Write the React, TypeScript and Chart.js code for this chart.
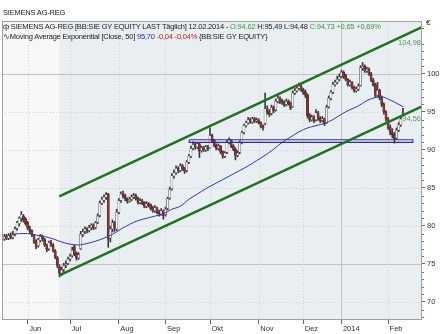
import React, { useEffect, useRef } from "react";
import { Chart, registerables } from "chart.js";

Chart.register(...registerables);

// ---- data (index 0 = first trading day of June 2013) ----
const FIRST_INDEX = -11;

const OPEN = [
  78.3, 78.7, 78.4, 78.8, 78.5, 78.9, 79.7, 80.3, 81.0, 81.3,
  80.9, 80.4, 79.6, 79.4, 78.7, 78.0, 77.4, 78.1, 78.6, 78.2,
  77.4, 77.0, 77.8, 77.5, 76.7, 75.8, 74.6, 73.8, 74.3, 74.9,
  75.1, 75.7, 76.1, 77.3, 76.4, 75.8, 77.0, 78.9, 79.3, 79.6,
  79.4, 79.8, 80.1, 79.8, 80.5, 81.4, 83.0, 83.4, 83.8, 84.2,
  78.4, 79.6, 80.4, 79.6, 81.8, 83.4, 84.2, 84.0, 83.5, 83.3,
  83.5, 83.8, 84.0, 83.6, 83.1, 83.3, 83.1, 82.6, 82.9, 82.8,
  82.4, 82.0, 82.4, 81.8, 81.6, 82.0, 81.5, 82.3, 83.7, 84.9,
  86.6, 87.0, 87.6, 87.3, 87.9, 87.5, 87.3, 88.4, 89.2, 90.2,
  90.7, 90.4, 90.8, 89.9, 90.3, 90.0, 90.4, 90.3, 91.9, 91.3,
  90.6, 90.2, 90.5, 89.8, 89.2, 89.7, 91.0, 91.3, 90.5, 90.1,
  89.3, 89.7, 91.0, 92.3, 93.2, 93.6, 94.0, 93.7, 94.1, 93.8,
  93.9, 93.6, 93.1, 93.5, 95.4, 95.0, 94.8, 95.6, 95.3, 96.4,
  96.8, 96.4, 96.3, 96.0, 96.4, 96.2, 95.7, 97.5, 97.8, 98.1,
  98.4, 97.9, 97.6, 97.2, 94.6, 94.0, 94.3, 94.0, 94.9, 94.2,
  93.9, 94.1, 93.6, 95.7, 96.8, 97.6, 98.6, 98.9, 99.3, 99.7,
  100.2, 99.8, 99.3, 98.6, 98.9, 98.2, 97.8, 98.0, 98.5, 100.8,
  101.0, 100.4, 100.6, 100.0, 99.2, 98.6, 97.2, 97.8, 96.9, 96.0,
  95.0, 94.1, 93.0, 92.3, 92.0, 91.6, 92.6, 93.3, 94.62,
];

const HIGH = [
  78.9, 78.9, 79.0, 79.1, 79.3, 79.9, 80.6, 81.2, 81.9, 81.5,
  81.1, 80.6, 80.0, 79.5, 78.9, 78.2, 78.4, 78.9, 78.8, 78.4,
  77.6, 78.0, 78.1, 77.7, 76.9, 76.0, 74.9, 74.6, 75.1, 75.4,
  75.9, 76.3, 77.2, 77.5, 76.6, 76.5, 79.3, 79.6, 79.9, 79.8,
  80.1, 80.3, 80.3, 80.6, 81.6, 83.3, 83.8, 84.1, 84.4, 84.3,
  80.0, 80.8, 80.6, 82.2, 83.6, 84.5, 84.6, 84.2, 83.7, 83.8,
  84.1, 84.3, 84.2, 83.8, 83.6, 83.5, 83.2, 83.2, 83.1, 82.9,
  82.6, 82.7, 82.5, 82.1, 82.3, 82.1, 82.5, 83.8, 85.1, 86.9,
  87.4, 87.9, 87.8, 88.2, 88.1, 87.7, 88.6, 89.4, 90.5, 91.1,
  90.9, 91.0, 90.9, 90.5, 90.5, 90.6, 90.6, 92.9, 92.1, 91.4,
  90.8, 90.8, 90.6, 89.9, 89.8, 91.3, 91.6, 91.4, 90.7, 90.3,
  89.9, 91.2, 92.5, 93.4, 93.8, 94.3, 94.2, 94.3, 94.3, 94.2,
  94.1, 93.7, 93.3, 97.5, 95.8, 95.3, 95.9, 95.8, 96.7, 97.2,
  97.0, 96.7, 96.5, 96.7, 96.6, 96.3, 97.8, 98.1, 98.5, 98.8,
  98.6, 98.1, 97.9, 97.4, 94.8, 94.6, 94.5, 95.3, 95.1, 94.4,
  94.4, 94.2, 95.9, 97.1, 97.8, 98.9, 99.2, 99.7, 100.0, 100.5,
  100.4, 100.0, 99.4, 99.2, 99.0, 98.4, 98.3, 98.7, 101.1, 101.5,
  101.2, 100.9, 100.8, 100.2, 99.4, 98.8, 98.9, 98.0, 97.1, 96.2,
  95.2, 94.3, 93.3, 92.8, 92.3, 92.9, 93.6, 94.3, 95.49,
];

const LOW = [
  78.1, 78.2, 78.2, 78.3, 78.3, 78.7, 79.4, 80.0, 80.6, 80.5,
  80.1, 79.5, 79.0, 78.6, 77.7, 77.0, 77.2, 77.9, 78.0, 77.3,
  76.6, 76.8, 77.3, 76.6, 75.7, 74.5, 73.3, 73.5, 74.0, 74.5,
  74.9, 75.4, 75.9, 76.1, 75.5, 75.6, 76.9, 78.6, 79.0, 79.1,
  79.2, 79.5, 79.5, 79.6, 80.3, 81.2, 82.8, 83.1, 83.5, 77.2,
  77.9, 79.2, 79.3, 79.4, 81.6, 83.1, 83.7, 83.3, 83.0, 83.1,
  83.3, 83.6, 83.4, 82.9, 82.9, 82.8, 82.4, 82.4, 82.5, 82.1,
  81.8, 81.8, 81.6, 81.3, 81.4, 80.9, 81.3, 82.1, 83.5, 84.7,
  86.3, 86.8, 87.0, 87.1, 87.3, 86.9, 87.1, 88.2, 89.0, 90.0,
  90.1, 90.2, 89.0, 89.7, 89.8, 89.8, 89.9, 90.2, 91.0, 90.4,
  90.0, 90.0, 89.5, 88.9, 89.0, 89.5, 90.8, 90.3, 89.9, 88.7,
  89.1, 89.5, 90.8, 92.1, 93.0, 93.4, 93.5, 93.5, 93.6, 93.6,
  93.4, 92.9, 92.6, 93.3, 94.7, 94.4, 94.6, 94.9, 95.1, 96.2,
  96.1, 96.0, 95.7, 95.8, 95.9, 95.3, 95.6, 97.3, 97.6, 97.9,
  97.7, 97.3, 96.9, 94.2, 93.7, 93.8, 93.6, 93.8, 93.9, 93.6,
  93.7, 93.2, 93.5, 95.5, 96.6, 97.4, 98.4, 98.7, 99.1, 99.5,
  99.4, 99.1, 98.4, 98.4, 98.0, 97.6, 97.6, 97.8, 98.4, 100.5,
  100.2, 100.2, 99.8, 99.0, 98.4, 96.9, 97.0, 96.6, 95.7, 94.7,
  93.8, 92.7, 92.0, 91.6, 90.9, 91.4, 92.4, 93.1, 94.48,
];

const CLOSE = [
  78.6, 78.4, 78.7, 78.5, 78.8, 79.6, 80.4, 81.0, 81.5, 80.8,
  80.3, 79.7, 79.3, 78.8, 77.9, 77.3, 78.2, 78.6, 78.3, 77.5,
  76.9, 77.8, 77.5, 76.8, 75.9, 74.8, 73.8, 74.2, 74.8, 75.0,
  75.6, 76.0, 76.8, 76.3, 75.8, 76.2, 78.9, 79.2, 79.6, 79.4,
  79.8, 80.1, 79.8, 80.4, 81.3, 83.0, 83.5, 83.8, 84.1, 78.3,
  79.6, 80.4, 79.8, 81.8, 83.3, 84.2, 84.0, 83.6, 83.3, 83.5,
  83.8, 84.0, 83.6, 83.1, 83.3, 83.0, 82.6, 82.9, 82.7, 82.3,
  82.0, 82.4, 81.8, 81.6, 82.0, 81.4, 82.2, 83.6, 84.8, 86.6,
  87.0, 87.6, 87.3, 87.9, 87.5, 87.2, 88.4, 89.2, 90.2, 90.7,
  90.4, 90.8, 89.9, 90.3, 90.0, 90.4, 90.2, 91.9, 91.2, 90.6,
  90.2, 90.5, 89.7, 89.2, 89.6, 91.0, 91.3, 90.5, 90.1, 89.3,
  89.6, 91.0, 92.3, 93.2, 93.6, 94.0, 93.7, 94.1, 93.8, 93.9,
  93.6, 93.1, 92.9, 95.4, 95.0, 94.7, 95.6, 95.2, 96.4, 96.8,
  96.4, 96.3, 96.0, 96.4, 96.1, 95.6, 97.5, 97.8, 98.1, 98.4,
  97.9, 97.5, 97.2, 94.5, 94.0, 94.3, 93.9, 94.9, 94.2, 93.9,
  94.1, 93.5, 95.6, 96.8, 97.6, 98.6, 98.9, 99.3, 99.6, 100.2,
  99.6, 99.3, 98.6, 98.9, 98.2, 97.8, 98.0, 98.4, 100.8, 101.0,
  100.4, 100.6, 100.0, 99.2, 98.6, 97.2, 97.8, 96.9, 96.0, 95.0,
  94.1, 93.0, 92.4, 92.0, 91.5, 92.6, 93.3, 94.08, 94.73,
];

// exponential moving average (50)
const MA_IDX = [
  -7, -4, 0, 4, 8, 12, 16, 20, 24, 28,
  32, 36, 40, 44, 48, 52, 56, 60, 64, 68,
  72, 76, 80, 84, 88, 92, 96, 100, 104, 108,
  112, 116, 120, 124, 128, 132, 136, 140, 144, 148,
  152, 156, 160, 164, 167, 170, 173, 177,
];
const MA_VAL = [
  78.9, 79.0, 79.0, 78.8, 78.6, 78.3, 77.9, 77.6, 77.5, 77.7,
  78.0, 78.4, 78.9, 79.6, 80.2, 80.7, 81.0, 81.3, 81.6, 82.2,
  82.6, 83.5, 84.2, 84.9, 85.5, 86.1, 86.7, 87.3, 87.9, 88.6,
  89.3, 90.1, 91.0, 91.7, 92.4, 92.9, 93.2, 93.5, 94.0, 94.7,
  95.3, 95.8, 96.5, 96.9, 97.0, 96.7, 96.3, 95.7,
];

// trend channel
const CH_IDX = [14.9, 186];
const CH_UPPER = [83.91, 106.15];
const CH_LOWER = [73.49, 95.73];
const CH_LABELS = [104.98, 94.56];

// horizontal support band
const SUP_IDX = [76.2, 181.7];
const SUP_VAL = [91.35, 91.0];

// axes
const MONTH_IDX = [0, 20, 43, 65, 86, 109, 130, 148, 170];
const MONTH_LABELS = ["Jun", "Jul", "Aug", "Sep", "Okt", "Nov", "Dez", "2014", "Feb"];
const YEAR_IDX = 148;
const Y_TICKS = [70, 75, 80, 85, 90, 95, 100];
const Y_MIN = 67.63;
const Y_MAX = 106.97;
const X_MIN = -12.12;
const X_MAX = 186;

const FONT = '"Liberation Sans", Arial, sans-serif';
const fmt = (v: number) => v.toFixed(2).replace(".", ",");

export default function App() {
  const ref = useRef<HTMLCanvasElement>(null);

  useEffect(() => {
    document.body.style.margin = "0";
    const canvas = ref.current!;
    const up = (k: number) => CLOSE[k] >= OPEN[k];

    const plugin = {
      id: "decor",
      beforeDraw(chart: any) {
        const { ctx, chartArea: a, scales } = chart;
        const x = scales.x;
        const y = scales.y;
        ctx.save();
        ctx.fillStyle = "#f7f7f7";
        ctx.fillRect(a.left, a.top, a.right - a.left, a.bottom - a.top);
        const sx = x.getPixelForValue(CH_IDX[0]);
        ctx.fillStyle = "#e9eef2";
        ctx.fillRect(sx, a.top, a.right - sx, a.bottom - a.top);
        ctx.lineWidth = 1;
        for (const v of Y_TICKS) {
          const py = Math.round(y.getPixelForValue(v)) + 0.5;
          const major = v % 25 === 0;
          ctx.strokeStyle = major ? "#c2c2c2" : "#cfcfcf";
          ctx.setLineDash(major ? [] : [1, 2]);
          ctx.beginPath();
          ctx.moveTo(a.left, py);
          ctx.lineTo(a.right, py);
          ctx.stroke();
        }
        for (const m of MONTH_IDX) {
          const px = Math.round(x.getPixelForValue(m)) + 0.5;
          const major = m === YEAR_IDX;
          ctx.strokeStyle = major ? "#c2c2c2" : "#d2d2d2";
          ctx.setLineDash(major ? [] : [1, 2]);
          ctx.beginPath();
          ctx.moveTo(px, a.top);
          ctx.lineTo(px, a.bottom);
          ctx.stroke();
        }
        ctx.restore();
      },
      afterDatasetsDraw(chart: any) {
        const { ctx, chartArea: a, scales } = chart;
        const y = scales.y;
        ctx.save();
        ctx.strokeStyle = "#a0a0a0";
        ctx.lineWidth = 1;
        ctx.strokeRect(a.left + 0.5, a.top + 0.5, a.right - a.left - 1, a.bottom - a.top - 1);
        ctx.strokeStyle = "#777";
        for (let v = Math.ceil(Y_MIN); v <= Math.floor(Y_MAX); v++) {
          if (v % 5 === 0) continue;
          const py = Math.round(y.getPixelForValue(v)) + 0.5;
          ctx.beginPath();
          ctx.moveTo(a.right, py);
          ctx.lineTo(a.right + 2, py);
          ctx.stroke();
        }
        ctx.fillStyle = "#5a9a5a";
        ctx.font = `7.5px ${FONT}`;
        ctx.textAlign = "right";
        ctx.textBaseline = "middle";
        ctx.fillText(fmt(CH_LABELS[0]), a.right - 1, y.getPixelForValue(CH_LABELS[0]) + 7);
        ctx.fillText(fmt(CH_LABELS[1]), a.right - 1, y.getPixelForValue(CH_LABELS[1]) + 4);
        ctx.restore();
      },
    };

    const chart = new Chart(canvas, {
      type: "bar",
      data: {
        datasets: [
          {
            type: "line",
            label: "Channel upper",
            data: CH_IDX.map((v, k) => ({ x: v, y: CH_UPPER[k] })),
            borderColor: "#237023",
            borderWidth: 2.5,
            pointRadius: 0,
            order: 0,
          } as any,
          {
            type: "line",
            label: "Channel lower",
            data: CH_IDX.map((v, k) => ({ x: v, y: CH_LOWER[k] })),
            borderColor: "#237023",
            borderWidth: 2.5,
            pointRadius: 0,
            order: 0,
          } as any,
          {
            type: "line",
            label: "Support",
            data: [
              { x: SUP_IDX[0], y: SUP_VAL[0] },
              { x: SUP_IDX[1], y: SUP_VAL[0] },
              { x: SUP_IDX[1], y: SUP_VAL[1] },
              { x: SUP_IDX[0], y: SUP_VAL[1] },
              { x: SUP_IDX[0], y: SUP_VAL[0] },
            ],
            borderColor: "#2c2c96",
            borderWidth: 1.1,
            pointRadius: 0,
            order: 0,
          } as any,
          {
            type: "line",
            label: "EMA 50",
            data: MA_IDX.map((v, k) => ({ x: v, y: MA_VAL[k] })),
            borderColor: "#3636b0",
            borderWidth: 1,
            pointRadius: 0,
            cubicInterpolationMode: "monotone",
            order: 1,
          } as any,
          {
            type: "bar",
            label: "Body",
            data: CLOSE.map((c, k) => ({
              x: FIRST_INDEX + k,
              y: [Math.min(OPEN[k], c), Math.max(OPEN[k], c)],
            })),
            backgroundColor: (c: any) => (up(c.dataIndex) ? "#f4f4f4" : "#8a3535"),
            borderColor: (c: any) => (up(c.dataIndex) ? "#484848" : "#4a1f1f"),
            borderWidth: 0.5,
            borderSkipped: false,
            barThickness: 2.2,
            minBarLength: 1,
            grouped: false,
            order: 2,
          } as any,
          {
            type: "bar",
            label: "Wick",
            data: CLOSE.map((_c, k) => ({ x: FIRST_INDEX + k, y: [LOW[k], HIGH[k]] })),
            backgroundColor: "#3a3a3a",
            barThickness: 1,
            grouped: false,
            order: 3,
          } as any,
        ],
      },
      options: {
        responsive: false,
        animation: false,
        devicePixelRatio: 1,
        layout: { padding: { left: 2, top: 21, right: 0, bottom: 0 } },
        plugins: { legend: { display: false }, tooltip: { enabled: false } },
        scales: {
          x: {
            type: "linear",
            min: X_MIN,
            max: X_MAX,
            offset: false,
            afterBuildTicks: (s: any) => {
              s.ticks = MONTH_IDX.map((v) => ({ value: v }));
            },
            afterFit: (s: any) => {
              s.height = 14;
            },
            grid: { drawOnChartArea: false, drawTicks: true, tickLength: 4, tickColor: "#666", offset: false },
            border: { display: false },
            ticks: {
              autoSkip: false,
              maxRotation: 0,
              minRotation: 0,
              align: "start",
              labelOffset: 1.5,
              padding: 0,
              color: "#333",
              font: { family: FONT, size: 7.5 },
              callback: (v: any) => {
                const k = MONTH_IDX.indexOf(Number(v));
                return k >= 0 ? MONTH_LABELS[k] : "";
              },
            },
          },
          y: {
            type: "linear",
            position: "right",
            min: Y_MIN,
            max: Y_MAX,
            afterBuildTicks: (s: any) => {
              s.ticks = Y_TICKS.map((v) => ({ value: v }));
            },
            afterFit: (s: any) => {
              s.width = 24;
            },
            grid: { drawOnChartArea: false, drawTicks: true, tickLength: 3, tickColor: "#666" },
            border: { display: false },
            ticks: {
              padding: 2,
              color: "#333",
              font: { family: FONT, size: 7.5 },
              callback: (v: any) => String(v),
            },
          },
        },
      } as any,
      plugins: [plugin],
    });
    return () => chart.destroy();
  }, []);

  const last = CLOSE.length - 1;
  const chg = CLOSE[last] - CLOSE[last - 1];
  const pct = (chg / CLOSE[last - 1]) * 100;
  const green = "#3a9a3a";
  const textStyle: React.CSSProperties = {
    position: "absolute",
    fontSize: "7.5px",
    lineHeight: "10px",
    letterSpacing: "-0.2px",
    whiteSpace: "nowrap",
    color: "#1a1a1a",
  };

  return (
    <div style={{ position: "relative", width: 446, height: 334, fontFamily: FONT, background: "#fff" }}>
      <canvas ref={ref} width={446} height={334} style={{ position: "absolute", left: 0, top: 0 }} />
      <div style={{ ...textStyle, left: 3, top: 8, color: "#222" }}>SIEMENS AG-REG</div>
      <div style={{ ...textStyle, left: 3, top: 22 }}>
        ф SIEMENS AG-REG [BB:SIE GY EQUITY LAST Täglich] 12.02.2014 -{" "}
        <span style={{ color: green }}>O:{fmt(OPEN[last])}</span> H:{fmt(HIGH[last])} L:{fmt(LOW[last])}{" "}
        <span style={{ color: green }}>
          C:{fmt(CLOSE[last])} +{fmt(chg)} +{fmt(pct)}%
        </span>
      </div>
      <div style={{ ...textStyle, left: 3, top: 32 }}>
        ∿Moving Average Exponential [Close, 50] <span style={{ color: "#2a2ac0" }}>{fmt(MA_VAL[MA_VAL.length - 1])}</span>{" "}
        <span style={{ color: "#d02020" }}>-0,04 -0,04%</span> {"{BB:SIE GY EQUITY}"}
      </div>
      <div style={{ ...textStyle, left: 426, top: 18, fontSize: "8px" }}>€</div>
    </div>
  );
}
